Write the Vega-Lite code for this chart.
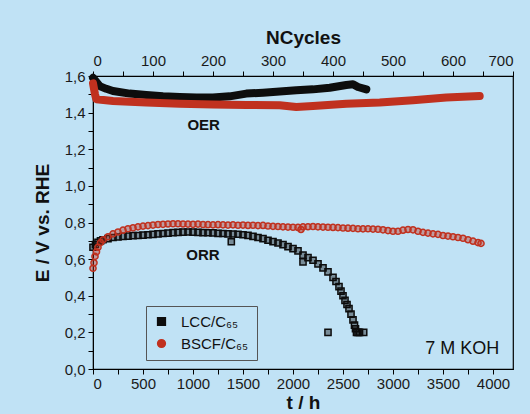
{
  "$schema": "https://vega.github.io/schema/vega-lite/v6.json",
  "width": 420,
  "height": 293,
  "autosize": {"type": "none"},
  "padding": {"left": 93, "top": 76, "right": 17, "bottom": 45},
  "background": "#c0e2f5",
  "config": {
    "view": {"stroke": "#000", "strokeWidth": 1.2},
    "font": "Liberation Sans",
    "axis": {
      "grid": false,
      "domainColor": "#000",
      "tickColor": "#000",
      "tickSize": 5,
      "labelOverlap": false,
      "labelColor": "#1a1a1a",
      "labelFont": "Liberation Sans",
      "labelFontSize": 15,
      "titleFont": "Liberation Sans",
      "titleFontSize": 19,
      "titleFontWeight": "bold",
      "titleColor": "#111"
    },
    "legend": {
      "labelFont": "Liberation Sans",
      "labelFontSize": 14,
      "labelColor": "#111"
    }
  },
  "datasets": {
    "oer": [
      {"series": "LCC/C₆₅", "t": 0, "E": 1.59},
      {"series": "LCC/C₆₅", "t": 30, "E": 1.57},
      {"series": "LCC/C₆₅", "t": 67, "E": 1.545},
      {"series": "LCC/C₆₅", "t": 133, "E": 1.53},
      {"series": "LCC/C₆₅", "t": 200, "E": 1.518},
      {"series": "LCC/C₆₅", "t": 367, "E": 1.504},
      {"series": "LCC/C₆₅", "t": 533, "E": 1.496},
      {"series": "LCC/C₆₅", "t": 700, "E": 1.489},
      {"series": "LCC/C₆₅", "t": 867, "E": 1.485},
      {"series": "LCC/C₆₅", "t": 1033, "E": 1.482},
      {"series": "LCC/C₆₅", "t": 1200, "E": 1.482},
      {"series": "LCC/C₆₅", "t": 1367, "E": 1.489},
      {"series": "LCC/C₆₅", "t": 1533, "E": 1.504},
      {"series": "LCC/C₆₅", "t": 1700, "E": 1.509},
      {"series": "LCC/C₆₅", "t": 1867, "E": 1.515},
      {"series": "LCC/C₆₅", "t": 2033, "E": 1.522},
      {"series": "LCC/C₆₅", "t": 2200, "E": 1.527},
      {"series": "LCC/C₆₅", "t": 2367, "E": 1.536},
      {"series": "LCC/C₆₅", "t": 2533, "E": 1.551},
      {"series": "LCC/C₆₅", "t": 2600, "E": 1.555},
      {"series": "LCC/C₆₅", "t": 2650, "E": 1.54},
      {"series": "LCC/C₆₅", "t": 2733, "E": 1.527},
      {"series": "BSCF/C₆₅", "t": 0, "E": 1.56},
      {"series": "BSCF/C₆₅", "t": 20, "E": 1.5},
      {"series": "BSCF/C₆₅", "t": 33, "E": 1.473},
      {"series": "BSCF/C₆₅", "t": 200, "E": 1.464},
      {"series": "BSCF/C₆₅", "t": 533, "E": 1.455},
      {"series": "BSCF/C₆₅", "t": 867, "E": 1.449},
      {"series": "BSCF/C₆₅", "t": 1200, "E": 1.445},
      {"series": "BSCF/C₆₅", "t": 1533, "E": 1.442},
      {"series": "BSCF/C₆₅", "t": 1867, "E": 1.44},
      {"series": "BSCF/C₆₅", "t": 2033, "E": 1.431},
      {"series": "BSCF/C₆₅", "t": 2200, "E": 1.436},
      {"series": "BSCF/C₆₅", "t": 2533, "E": 1.449},
      {"series": "BSCF/C₆₅", "t": 2867, "E": 1.455},
      {"series": "BSCF/C₆₅", "t": 3200, "E": 1.467},
      {"series": "BSCF/C₆₅", "t": 3533, "E": 1.482},
      {"series": "BSCF/C₆₅", "t": 3867, "E": 1.491}
    ],
    "orr": [
      {"series": "LCC/C₆₅", "t": 0, "E": 0.665},
      {"series": "LCC/C₆₅", "t": 25, "E": 0.68},
      {"series": "LCC/C₆₅", "t": 50, "E": 0.692},
      {"series": "LCC/C₆₅", "t": 75, "E": 0.7},
      {"series": "LCC/C₆₅", "t": 100, "E": 0.706},
      {"series": "LCC/C₆₅", "t": 150, "E": 0.712},
      {"series": "LCC/C₆₅", "t": 200, "E": 0.718},
      {"series": "LCC/C₆₅", "t": 250, "E": 0.721},
      {"series": "LCC/C₆₅", "t": 300, "E": 0.724},
      {"series": "LCC/C₆₅", "t": 350, "E": 0.726},
      {"series": "LCC/C₆₅", "t": 400, "E": 0.728},
      {"series": "LCC/C₆₅", "t": 450, "E": 0.729},
      {"series": "LCC/C₆₅", "t": 500, "E": 0.731},
      {"series": "LCC/C₆₅", "t": 550, "E": 0.733},
      {"series": "LCC/C₆₅", "t": 600, "E": 0.735},
      {"series": "LCC/C₆₅", "t": 650, "E": 0.738},
      {"series": "LCC/C₆₅", "t": 700, "E": 0.74},
      {"series": "LCC/C₆₅", "t": 750, "E": 0.742},
      {"series": "LCC/C₆₅", "t": 800, "E": 0.745},
      {"series": "LCC/C₆₅", "t": 850, "E": 0.746},
      {"series": "LCC/C₆₅", "t": 900, "E": 0.747},
      {"series": "LCC/C₆₅", "t": 950, "E": 0.748},
      {"series": "LCC/C₆₅", "t": 1000, "E": 0.747},
      {"series": "LCC/C₆₅", "t": 1050, "E": 0.746},
      {"series": "LCC/C₆₅", "t": 1100, "E": 0.745},
      {"series": "LCC/C₆₅", "t": 1150, "E": 0.744},
      {"series": "LCC/C₆₅", "t": 1200, "E": 0.743},
      {"series": "LCC/C₆₅", "t": 1250, "E": 0.741},
      {"series": "LCC/C₆₅", "t": 1300, "E": 0.74},
      {"series": "LCC/C₆₅", "t": 1350, "E": 0.738},
      {"series": "LCC/C₆₅", "t": 1383, "E": 0.695},
      {"series": "LCC/C₆₅", "t": 1400, "E": 0.737},
      {"series": "LCC/C₆₅", "t": 1450, "E": 0.736},
      {"series": "LCC/C₆₅", "t": 1500, "E": 0.733},
      {"series": "LCC/C₆₅", "t": 1550, "E": 0.73},
      {"series": "LCC/C₆₅", "t": 1600, "E": 0.724},
      {"series": "LCC/C₆₅", "t": 1650, "E": 0.718},
      {"series": "LCC/C₆₅", "t": 1700, "E": 0.712},
      {"series": "LCC/C₆₅", "t": 1750, "E": 0.703},
      {"series": "LCC/C₆₅", "t": 1800, "E": 0.696},
      {"series": "LCC/C₆₅", "t": 1850, "E": 0.688},
      {"series": "LCC/C₆₅", "t": 1900, "E": 0.679},
      {"series": "LCC/C₆₅", "t": 1950, "E": 0.668},
      {"series": "LCC/C₆₅", "t": 2000, "E": 0.657},
      {"series": "LCC/C₆₅", "t": 2050, "E": 0.645},
      {"series": "LCC/C₆₅", "t": 2100, "E": 0.622},
      {"series": "LCC/C₆₅", "t": 2100, "E": 0.585},
      {"series": "LCC/C₆₅", "t": 2150, "E": 0.608},
      {"series": "LCC/C₆₅", "t": 2200, "E": 0.594},
      {"series": "LCC/C₆₅", "t": 2250, "E": 0.574},
      {"series": "LCC/C₆₅", "t": 2300, "E": 0.552},
      {"series": "LCC/C₆₅", "t": 2350, "E": 0.53},
      {"series": "LCC/C₆₅", "t": 2350, "E": 0.2},
      {"series": "LCC/C₆₅", "t": 2400, "E": 0.5},
      {"series": "LCC/C₆₅", "t": 2430, "E": 0.478},
      {"series": "LCC/C₆₅", "t": 2460, "E": 0.45},
      {"series": "LCC/C₆₅", "t": 2480, "E": 0.425},
      {"series": "LCC/C₆₅", "t": 2500, "E": 0.4},
      {"series": "LCC/C₆₅", "t": 2520, "E": 0.375},
      {"series": "LCC/C₆₅", "t": 2540, "E": 0.352},
      {"series": "LCC/C₆₅", "t": 2560, "E": 0.33},
      {"series": "LCC/C₆₅", "t": 2580, "E": 0.3},
      {"series": "LCC/C₆₅", "t": 2600, "E": 0.268},
      {"series": "LCC/C₆₅", "t": 2615, "E": 0.24},
      {"series": "LCC/C₆₅", "t": 2625, "E": 0.22},
      {"series": "LCC/C₆₅", "t": 2635, "E": 0.2},
      {"series": "LCC/C₆₅", "t": 2650, "E": 0.2},
      {"series": "LCC/C₆₅", "t": 2665, "E": 0.2},
      {"series": "LCC/C₆₅", "t": 2707, "E": 0.2},
      {"series": "BSCF/C₆₅", "t": 0, "E": 0.55},
      {"series": "BSCF/C₆₅", "t": 10, "E": 0.58},
      {"series": "BSCF/C₆₅", "t": 20, "E": 0.615},
      {"series": "BSCF/C₆₅", "t": 35, "E": 0.64},
      {"series": "BSCF/C₆₅", "t": 50, "E": 0.665},
      {"series": "BSCF/C₆₅", "t": 75, "E": 0.69},
      {"series": "BSCF/C₆₅", "t": 100, "E": 0.705},
      {"series": "BSCF/C₆₅", "t": 150, "E": 0.722},
      {"series": "BSCF/C₆₅", "t": 200, "E": 0.738},
      {"series": "BSCF/C₆₅", "t": 250, "E": 0.748},
      {"series": "BSCF/C₆₅", "t": 300, "E": 0.758},
      {"series": "BSCF/C₆₅", "t": 350, "E": 0.766},
      {"series": "BSCF/C₆₅", "t": 400, "E": 0.771},
      {"series": "BSCF/C₆₅", "t": 450, "E": 0.776},
      {"series": "BSCF/C₆₅", "t": 500, "E": 0.78},
      {"series": "BSCF/C₆₅", "t": 550, "E": 0.783},
      {"series": "BSCF/C₆₅", "t": 600, "E": 0.786},
      {"series": "BSCF/C₆₅", "t": 650, "E": 0.789},
      {"series": "BSCF/C₆₅", "t": 700, "E": 0.79},
      {"series": "BSCF/C₆₅", "t": 750, "E": 0.792},
      {"series": "BSCF/C₆₅", "t": 800, "E": 0.793},
      {"series": "BSCF/C₆₅", "t": 850, "E": 0.793},
      {"series": "BSCF/C₆₅", "t": 900, "E": 0.792},
      {"series": "BSCF/C₆₅", "t": 950, "E": 0.791},
      {"series": "BSCF/C₆₅", "t": 1000, "E": 0.79},
      {"series": "BSCF/C₆₅", "t": 1050, "E": 0.791},
      {"series": "BSCF/C₆₅", "t": 1100, "E": 0.789},
      {"series": "BSCF/C₆₅", "t": 1150, "E": 0.788},
      {"series": "BSCF/C₆₅", "t": 1200, "E": 0.787},
      {"series": "BSCF/C₆₅", "t": 1250, "E": 0.788},
      {"series": "BSCF/C₆₅", "t": 1300, "E": 0.787},
      {"series": "BSCF/C₆₅", "t": 1350, "E": 0.786},
      {"series": "BSCF/C₆₅", "t": 1400, "E": 0.787},
      {"series": "BSCF/C₆₅", "t": 1450, "E": 0.785},
      {"series": "BSCF/C₆₅", "t": 1500, "E": 0.786},
      {"series": "BSCF/C₆₅", "t": 1550, "E": 0.784},
      {"series": "BSCF/C₆₅", "t": 1600, "E": 0.785},
      {"series": "BSCF/C₆₅", "t": 1650, "E": 0.783},
      {"series": "BSCF/C₆₅", "t": 1700, "E": 0.784},
      {"series": "BSCF/C₆₅", "t": 1750, "E": 0.781},
      {"series": "BSCF/C₆₅", "t": 1800, "E": 0.779},
      {"series": "BSCF/C₆₅", "t": 1850, "E": 0.778},
      {"series": "BSCF/C₆₅", "t": 1900, "E": 0.776},
      {"series": "BSCF/C₆₅", "t": 1950, "E": 0.775},
      {"series": "BSCF/C₆₅", "t": 2000, "E": 0.774},
      {"series": "BSCF/C₆₅", "t": 2050, "E": 0.773},
      {"series": "BSCF/C₆₅", "t": 2080, "E": 0.762},
      {"series": "BSCF/C₆₅", "t": 2100, "E": 0.776},
      {"series": "BSCF/C₆₅", "t": 2150, "E": 0.777},
      {"series": "BSCF/C₆₅", "t": 2200, "E": 0.778},
      {"series": "BSCF/C₆₅", "t": 2250, "E": 0.776},
      {"series": "BSCF/C₆₅", "t": 2300, "E": 0.775},
      {"series": "BSCF/C₆₅", "t": 2350, "E": 0.774},
      {"series": "BSCF/C₆₅", "t": 2400, "E": 0.773},
      {"series": "BSCF/C₆₅", "t": 2450, "E": 0.772},
      {"series": "BSCF/C₆₅", "t": 2500, "E": 0.77},
      {"series": "BSCF/C₆₅", "t": 2550, "E": 0.769},
      {"series": "BSCF/C₆₅", "t": 2600, "E": 0.768},
      {"series": "BSCF/C₆₅", "t": 2650, "E": 0.766},
      {"series": "BSCF/C₆₅", "t": 2700, "E": 0.765},
      {"series": "BSCF/C₆₅", "t": 2750, "E": 0.766},
      {"series": "BSCF/C₆₅", "t": 2800, "E": 0.764},
      {"series": "BSCF/C₆₅", "t": 2850, "E": 0.763},
      {"series": "BSCF/C₆₅", "t": 2900, "E": 0.76},
      {"series": "BSCF/C₆₅", "t": 2950, "E": 0.756},
      {"series": "BSCF/C₆₅", "t": 3000, "E": 0.752},
      {"series": "BSCF/C₆₅", "t": 3050, "E": 0.752},
      {"series": "BSCF/C₆₅", "t": 3100, "E": 0.758},
      {"series": "BSCF/C₆₅", "t": 3150, "E": 0.762},
      {"series": "BSCF/C₆₅", "t": 3200, "E": 0.76},
      {"series": "BSCF/C₆₅", "t": 3250, "E": 0.752},
      {"series": "BSCF/C₆₅", "t": 3300, "E": 0.746},
      {"series": "BSCF/C₆₅", "t": 3350, "E": 0.742},
      {"series": "BSCF/C₆₅", "t": 3400, "E": 0.738},
      {"series": "BSCF/C₆₅", "t": 3450, "E": 0.735},
      {"series": "BSCF/C₆₅", "t": 3500, "E": 0.729},
      {"series": "BSCF/C₆₅", "t": 3550, "E": 0.726},
      {"series": "BSCF/C₆₅", "t": 3600, "E": 0.722},
      {"series": "BSCF/C₆₅", "t": 3650, "E": 0.718},
      {"series": "BSCF/C₆₅", "t": 3700, "E": 0.714},
      {"series": "BSCF/C₆₅", "t": 3750, "E": 0.706},
      {"series": "BSCF/C₆₅", "t": 3800, "E": 0.698},
      {"series": "BSCF/C₆₅", "t": 3850, "E": 0.69},
      {"series": "BSCF/C₆₅", "t": 3880, "E": 0.686}
    ],
    "bold_labels": [
      {"label": "OER", "t": 1107, "E": 1.333},
      {"label": "ORR", "t": 1100, "E": 0.622}
    ],
    "note": [
      {"label": "7 M KOH", "t": 3693, "E": 0.108}
    ],
    "cycles": [
      {"N": 0},
      {"N": 700}
    ]
  },
  "layer": [
    {
      "layer": [
        {
          "data": {"name": "oer"},
          "mark": {"type": "line", "strokeWidth": 8, "strokeCap": "round", "strokeJoin": "round"},
          "encoding": {
            "x": {
              "field": "t", "type": "quantitative",
              "scale": {"domain": [0, 4200], "nice": false, "zero": false},
              "axis": {
                "title": "t / h",
                "orient": "bottom",
                "values": [0, 250, 500, 750, 1000, 1250, 1500, 1750, 2000, 2250, 2500, 2750, 3000, 3250, 3500, 3750, 4000],
                "tickCount": 50,
                "labelExpr": "datum.value % 500 == 0 ? format(datum.value, 'd') : ''",
                "labelOverlap": false,
                "labelPadding": 2,
                "titlePadding": 2
              }
            },
            "y": {
              "field": "E", "type": "quantitative",
              "scale": {"domain": [0, 1.6], "nice": false},
              "axis": {
                "title": "E / V vs. RHE",
                "values": [0, 0.1, 0.2, 0.3, 0.4, 0.5, 0.6, 0.7, 0.8, 0.9, 1.0, 1.1, 1.2, 1.3, 1.4, 1.5, 1.6],
                "tickCount": 50,
                "labelExpr": "round(datum.value * 10) % 2 == 0 ? replace(format(datum.value, '.1f'), '.', ',') : ''",
                "labelOverlap": false,
                "labelPadding": 3,
                "titlePadding": 12
              }
            },
            "color": {
              "field": "series", "type": "nominal",
              "scale": {"domain": ["LCC/C₆₅", "BSCF/C₆₅"], "range": ["#0d0d0d", "#c0311f"]}
            },
            "detail": {"field": "series"}
          }
        },
        {
          "data": {"name": "orr"},
          "mark": {"type": "point", "filled": true, "size": 38, "strokeWidth": 1.5, "fillOpacity": 0.4},
          "encoding": {
            "x": {"field": "t", "type": "quantitative"},
            "y": {"field": "E", "type": "quantitative"},
            "color": {
              "field": "series", "type": "nominal",
              "scale": {"domain": ["LCC/C₆₅", "BSCF/C₆₅"], "range": ["#0d0d0d", "#c0311f"]},
              "legend": {
                "title": null,
                "orient": "none",
                "legendX": 53,
                "legendY": 230,
                "strokeColor": "#555",
                "padding": 8,
                "symbolSize": 60,
                "rowPadding": 6,
                "labelOffset": 12,
                "labelFontSize": 15,
                "encode": {"symbols": {"update": {"fillOpacity": {"value": 1}, "opacity": {"value": 1}}}}
              }
            },
            "stroke": {
              "field": "series", "type": "nominal",
              "scale": {"domain": ["LCC/C₆₅", "BSCF/C₆₅"], "range": ["#0d0d0d", "#c0311f"]},
              "legend": {
                "title": null,
                "orient": "none",
                "legendX": 53,
                "legendY": 230,
                "strokeColor": "#555",
                "padding": 8,
                "symbolSize": 60,
                "rowPadding": 6,
                "labelOffset": 12,
                "labelFontSize": 15,
                "encode": {"symbols": {"update": {"fillOpacity": {"value": 1}, "opacity": {"value": 1}}}}
              }
            },
            "shape": {
              "field": "series", "type": "nominal",
              "scale": {"domain": ["LCC/C₆₅", "BSCF/C₆₅"], "range": ["square", "circle"]},
              "legend": {
                "title": null,
                "orient": "none",
                "legendX": 53,
                "legendY": 230,
                "strokeColor": "#555",
                "padding": 8,
                "symbolSize": 60,
                "rowPadding": 6,
                "labelOffset": 12,
                "labelFontSize": 15,
                "encode": {"symbols": {"update": {"fillOpacity": {"value": 1}, "opacity": {"value": 1}}}}
              }
            }
          }
        },
        {
          "data": {"name": "bold_labels"},
          "mark": {"type": "text", "fontWeight": "bold", "fontSize": 15, "font": "Liberation Sans", "color": "#111"},
          "encoding": {
            "x": {"field": "t", "type": "quantitative"},
            "y": {"field": "E", "type": "quantitative"},
            "text": {"field": "label"}
          }
        },
        {
          "data": {"name": "note"},
          "mark": {"type": "text", "fontSize": 18, "font": "Liberation Sans", "color": "#111"},
          "encoding": {
            "x": {"field": "t", "type": "quantitative"},
            "y": {"field": "E", "type": "quantitative"},
            "text": {"field": "label"}
          }
        }
      ]
    },
    {
      "data": {"name": "cycles"},
      "mark": {"type": "point", "opacity": 0},
      "encoding": {
        "x": {
          "field": "N", "type": "quantitative",
          "scale": {"domain": [0, 700], "nice": false},
          "axis": {
            "orient": "top",
            "title": "NCycles",
            "values": [0, 50, 100, 150, 200, 250, 300, 350, 400, 450, 500, 550, 600, 650, 700],
            "tickCount": 50,
            "labelExpr": "datum.value % 100 == 0 ? format(datum.value, 'd') : ''",
            "labelOverlap": false,
            "labelPadding": 3,
            "titlePadding": 6
          }
        }
      }
    }
  ],
  "resolve": {"scale": {"x": "independent"}}
}
